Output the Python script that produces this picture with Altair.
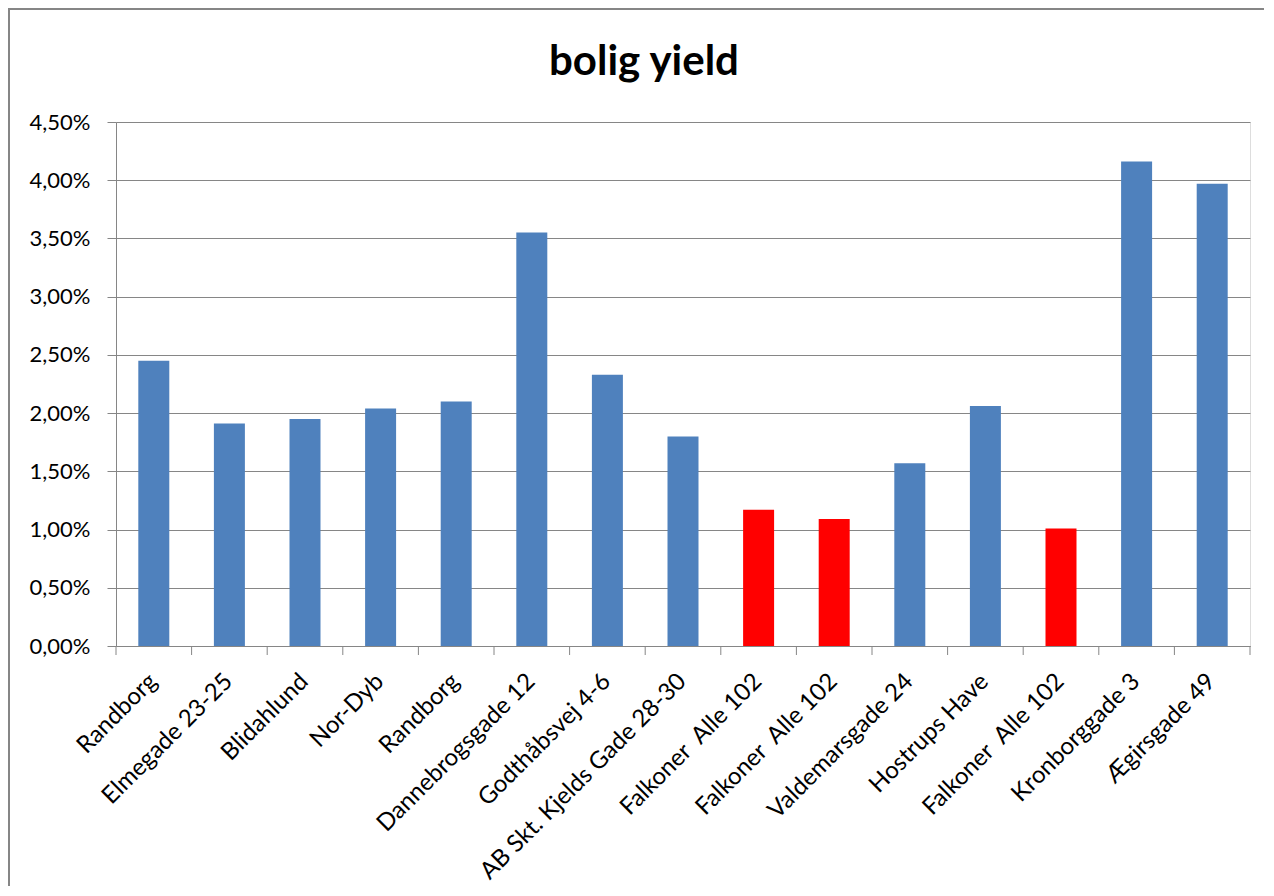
import altair as alt
import pandas as pd

names = [
    "Randborg", "Elmegade 23-25", "Blidahlund", "Nor-Dyb", "Randborg",
    "Dannebrogsgade 12", "Godthåbsvej 4-6", "AB Skt. Kjelds Gade 28-30",
    "Falkoner  Alle 102", "Falkoner  Alle 102", "Valdemarsgade 24",
    "Hostrups Have", "Falkoner  Alle 102", "Kronborggade 3", "Ægirsgade 49",
]
yield_pct = [2.45, 1.91, 1.95, 2.04, 2.10, 3.55, 2.33, 1.80, 1.17, 1.09,
             1.57, 2.06, 1.01, 4.16, 3.97]
highlight = [False, False, False, False, False, False, False, False,
             True, True, False, False, True, False, False]
y_ticks = [0.0, 0.005, 0.01, 0.015, 0.02, 0.025, 0.03, 0.035, 0.04, 0.045]
title_text = "bolig yield"

n = len(names)
df = pd.DataFrame({
    "idx": list(range(n)),
    "name": names,
    "yield": [v / 100 for v in yield_pct],
    "group": ["red" if h else "blue" for h in highlight],
})
# category boundaries (Excel puts the category ticks between the bars)
bounds_df = pd.DataFrame({"b": list(range(n + 1))})

W, H = 1134, 524
PAD = {"left": 108, "top": 114, "right": 14, "bottom": 240}
FONT = "Lato"
GRAY = "#868686"

label_arr = "[" + ",".join(
    "'" + s.replace("  ", "\u00a0 ") + "'" for s in names) + "]"

bars = alt.Chart(df).mark_bar().encode(
    x=alt.X("idx:O",
            scale=alt.Scale(paddingInner=0.59, paddingOuter=0.295),
            axis=alt.Axis(title=None, labelExpr=label_arr + "[datum.value]",
                          labelAngle=-45, labelAlign="right", labelBaseline="top",
                          labelFont=FONT, labelFontSize=24, labelColor="#000000",
                          labelPadding=23, labelOffset=-9, labelLimit=0,
                          ticks=False, tickSize=0,
                          domainColor=GRAY, domainWidth=1, grid=False)),
    y=alt.Y("yield:Q",
            scale=alt.Scale(domain=[0, 0.045], nice=False),
            axis=alt.Axis(title=None, values=y_ticks,
                          labelExpr="replace(format(datum.value, '.2%'), '.', ',')",
                          labelFont=FONT, labelFontSize=22, labelColor="#000000",
                          labelPadding=17, tickSize=9, tickColor=GRAY,
                          domainColor=GRAY, gridColor=GRAY, grid=True,
                          gridWidth=1, tickWidth=1, domainWidth=1)),
    color=alt.Color("group:N",
                    scale=alt.Scale(domain=["blue", "red"],
                                    range=["#4F81BD", "#FF0000"]),
                    legend=None),
)

cat_ticks = alt.Chart(bounds_df).mark_rule(color=GRAY, strokeWidth=1).encode(
    x=alt.X("b:Q", scale=alt.Scale(domain=[0, n], nice=False, zero=False),
            axis=None),
    y=alt.value(H), y2=alt.value(H + 9),
)

one = pd.DataFrame({"k": [0]})
frame_left = alt.Chart(one).mark_rule(color=GRAY, strokeWidth=2).encode(
    x=alt.value(-107), y=alt.value(-113), y2=alt.value(H + PAD["bottom"]))
frame_top = alt.Chart(one).mark_rule(color=GRAY, strokeWidth=2).encode(
    x=alt.value(-108), x2=alt.value(W + PAD["right"]), y=alt.value(-113))
title = alt.Chart(pd.DataFrame({"t": [title_text]})).mark_text(
    font=FONT, fontSize=42, fontWeight="bold", color="#000000",
    align="center", baseline="alphabetic",
).encode(text="t:N", x=alt.value(W / 2 - 39), y=alt.value(-47))

chart = alt.layer(bars, cat_ticks, frame_left, frame_top, title).resolve_scale(
    x="independent"
).properties(
    width=W, height=H,
    autosize=alt.AutoSizeParams(type="none"),
    padding=PAD,
).configure_view(stroke=None).configure(background="white")

chart.save("out.html", embed_options={"renderer": "svg", "actions": False})
